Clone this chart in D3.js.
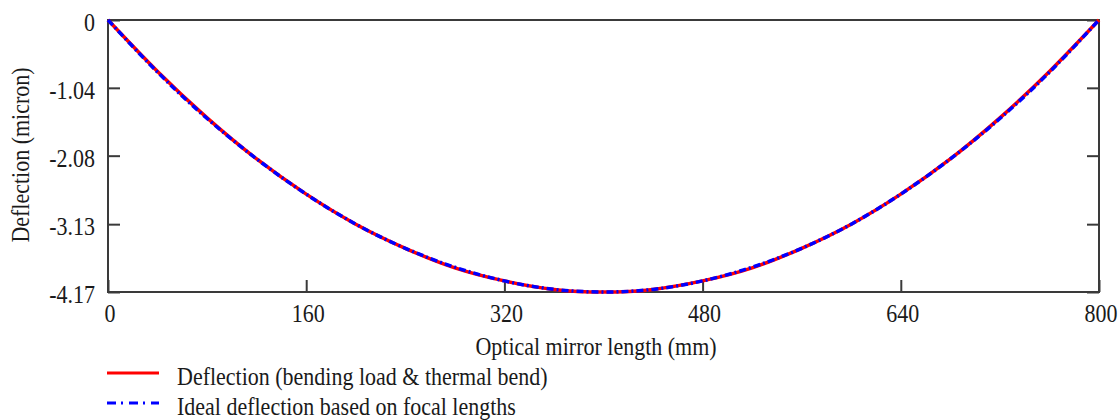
<!DOCTYPE html>
<html>
<head>
<meta charset="utf-8">
<script src="https://cdn.jsdelivr.net/npm/d3@7"></script>
<style>
  body { margin: 0; background: #fff; }
</style>
</head>
<body>
<div id="chart"></div>
<script>
// positions along the mirror (mm)
const lengthMm = [0, 40, 80, 120, 160, 200, 240, 280, 320, 360, 400,
                  440, 480, 520, 560, 600, 640, 680, 720, 760, 800];
// deflection from bending load & thermal bend (micron)
const deflection = [0, -0.79, -1.50, -2.13, -2.67, -3.13, -3.50, -3.80, -4.00, -4.13, -4.17,
                    -4.13, -4.00, -3.80, -3.50, -3.13, -2.67, -2.13, -1.50, -0.79, 0];
// ideal deflection based on focal lengths (micron)
const idealDeflection = [0, -0.80, -1.51, -2.13, -2.67, -3.13, -3.50, -3.79, -4.00, -4.13, -4.17,
                         -4.13, -4.00, -3.79, -3.50, -3.13, -2.67, -2.13, -1.51, -0.80, 0];
// axis ticks
const xTicks = [0, 160, 320, 480, 640, 800];
const yTicks = [0, -1.04, -2.08, -3.13, -4.17];
const yTickLabels = ['0', '-1.04', '-2.08', '-3.13', '-4.17'];
const legendLabels = ['Deflection (bending load & thermal bend)', 'Ideal deflection based on focal lengths'];

const width = 1120, height = 420;
const plotLeft = 108, plotRight = 1099, plotTop = 20, plotBottom = 292;
const fontFamily = '"Liberation Serif", "Times New Roman", serif';
const fontSize = '22px';
// the text in the picture is a bit taller than it is wide
const ky = 1.18;

const svg = d3.select('#chart').append('svg')
    .attr('width', width)
    .attr('height', height);

// scales
const xScale = d3.scaleLinear().domain([0, 800]).range([plotLeft, plotRight]);
const yScale = d3.scaleLinear().domain([-4.17, 0]).range([plotBottom, plotTop]);

const axisColor = '#3a3a3a';
const textColor = '#1a1a1a';

// frame
svg.append('rect')
    .attr('x', plotLeft).attr('y', plotTop)
    .attr('width', plotRight - plotLeft).attr('height', plotBottom - plotTop)
    .attr('fill', 'none')
    .attr('stroke', axisColor)
    .attr('stroke-width', 2);

function styleAxis(g) {
    g.select('.domain').remove();
    g.selectAll('.tick line').attr('stroke', axisColor).attr('stroke-width', 2);
    g.selectAll('.tick text')
        .style('font-family', fontFamily)
        .style('font-size', fontSize)
        .attr('fill', textColor);
}

// left axis, ticks pointing inward
svg.append('g')
    .attr('transform', `translate(${plotLeft},0)`)
    .call(d3.axisLeft(yScale).tickValues(yTicks).tickSize(-12).tickPadding(13)
        .tickFormat(function (d, i) { return yTickLabels[i]; }))
    .call(styleAxis)
    .selectAll('.tick text')
    .attr('dy', 0)
    .attr('y', 10.5 / ky)
    .attr('transform', `scale(1,${ky})`);

// right axis, ticks only
svg.append('g')
    .attr('transform', `translate(${plotRight},0)`)
    .call(d3.axisRight(yScale).tickValues(yTicks).tickSize(-12).tickFormat(''))
    .call(styleAxis);

// bottom axis
svg.append('g')
    .attr('transform', `translate(0,${plotBottom})`)
    .call(d3.axisBottom(xScale).tickValues(xTicks).tickSize(-12)
        .tickFormat(d3.format('d')))
    .call(styleAxis)
    .selectAll('.tick text')
    .attr('dy', 0)
    .attr('x', 1.5)
    .attr('y', 30.5 / ky)
    .attr('transform', `scale(1,${ky})`);

// helper for free standing labels
function label(x, y, rotate, anchor, txt) {
    svg.append('text')
        .attr('transform', `translate(${x},${y}) rotate(${rotate}) scale(1,${ky})`)
        .attr('text-anchor', anchor)
        .style('font-family', fontFamily)
        .style('font-size', fontSize)
        .attr('fill', textColor)
        .text(txt);
}

// axis titles
label(596, 355, 0, 'middle', 'Optical mirror length (mm)');
label(29, 155, -90, 'middle', 'Deflection (micron)');

// curves
const line = d3.line()
    .x(function (d) { return xScale(d[0]); })
    .y(function (d) { return yScale(d[1]); })
    .curve(d3.curveNatural);

svg.append('path')
    .datum(d3.zip(lengthMm, deflection))
    .attr('fill', 'none')
    .attr('stroke', '#ff0000')
    .attr('stroke-width', 3.5)
    .attr('d', line);

svg.append('path')
    .datum(d3.zip(lengthMm, idealDeflection))
    .attr('fill', 'none')
    .attr('stroke', '#0000ff')
    .attr('stroke-width', 3.5)
    .attr('stroke-dasharray', '7,3,2,3')
    .attr('d', line);

// legend
const legend = svg.selectAll('.legend')
    .data(legendLabels)
    .enter().append('g')
    .attr('class', 'legend')
    .attr('transform', function (d, i) { return `translate(0,${373 + i * 30})`; });

legend.append('line')
    .attr('x1', 107).attr('x2', 159)
    .attr('stroke', function (d, i) { return i === 0 ? '#ff0000' : '#0000ff'; })
    .attr('stroke-width', 3)
    .attr('stroke-dasharray', function (d, i) { return i === 0 ? null : '9,5,2,6'; });

legend.append('text')
    .attr('transform', `translate(177,12) scale(1,${ky})`)
    .style('font-family', fontFamily)
    .style('font-size', fontSize)
    .attr('fill', textColor)
    .text(function (d) { return d; });
</script>
</body>
</html>
